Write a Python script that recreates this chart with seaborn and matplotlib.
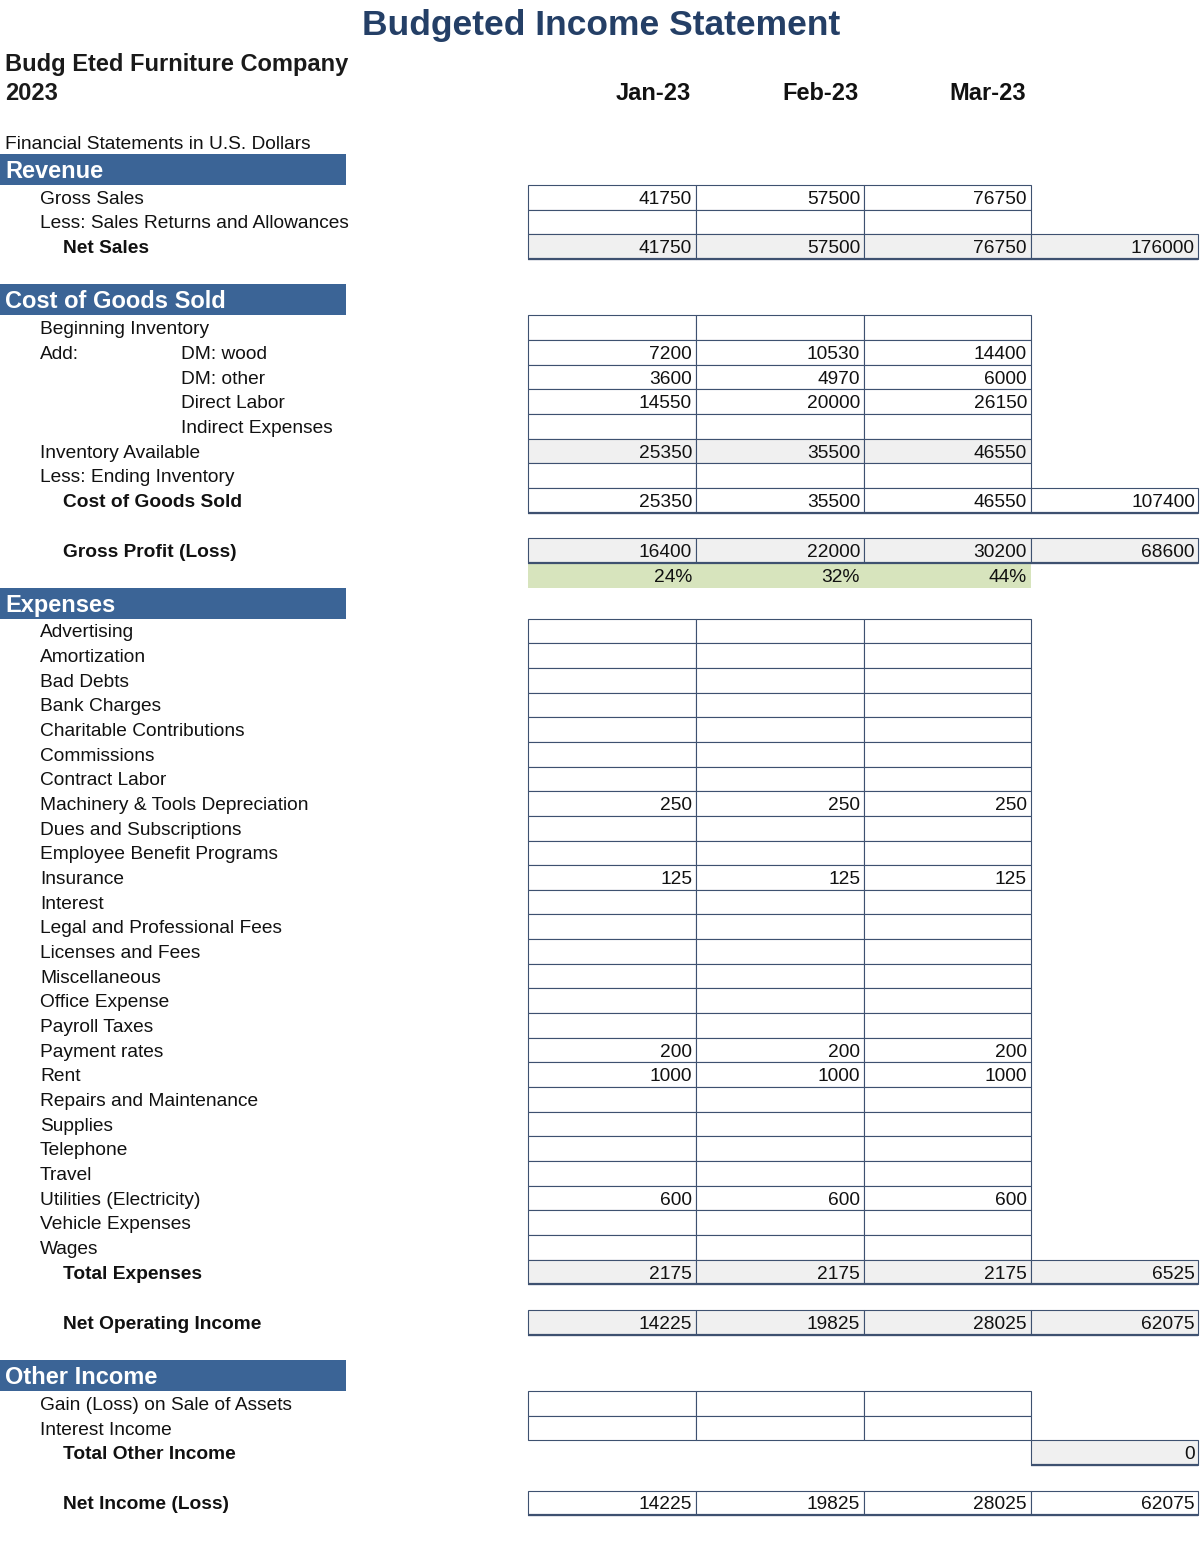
import matplotlib
matplotlib.use('Agg')
import matplotlib.pyplot as plt
from matplotlib.patches import Rectangle
import seaborn as sns

months = ['Jan-23', 'Feb-23', 'Mar-23']

gross_sales = [41750, 57500, 76750]
net_sales = [41750, 57500, 76750]
net_sales_total = 176000

dm_wood = [7200, 10530, 14400]
dm_other = [3600, 4970, 6000]
direct_labor = [14550, 20000, 26150]
inventory_available = [25350, 35500, 46550]
cost_of_goods = [25350, 35500, 46550]
cost_of_goods_total = 107400

gross_profit = [16400, 22000, 30200]
gross_profit_total = 68600
gross_margin = ['24%', '32%', '44%']

expense_labels = [
    'Advertising', 'Amortization', 'Bad Debts', 'Bank Charges',
    'Charitable Contributions', 'Commissions', 'Contract Labor',
    'Machinery & Tools Depreciation', 'Dues and Subscriptions',
    'Employee Benefit Programs', 'Insurance', 'Interest',
    'Legal and Professional Fees', 'Licenses and Fees', 'Miscellaneous',
    'Office Expense', 'Payroll Taxes', 'Payment rates', 'Rent',
    'Repairs and Maintenance', 'Supplies', 'Telephone', 'Travel',
    'Utilities (Electricity)', 'Vehicle Expenses', 'Wages',
]
depreciation = [250, 250, 250]
insurance = [125, 125, 125]
payment_rates = [200, 200, 200]
rent = [1000, 1000, 1000]
utilities = [600, 600, 600]
total_expenses = [2175, 2175, 2175]
total_expenses_total = 6525

net_operating = [14225, 19825, 28025]
net_operating_total = 62075
total_other_income = 0
net_income = [14225, 19825, 28025]
net_income_total = 62075

expense_values = {
    'Machinery & Tools Depreciation': depreciation,
    'Insurance': insurance,
    'Payment rates': payment_rates,
    'Rent': rent,
    'Utilities (Electricity)': utilities,
}

# ---- style ----
sns.set_theme(style='white')
plt.rcParams['font.family'] = ['Liberation Sans', 'DejaVu Sans']

HEADER_BLUE = '#3B6496'
TITLE_BLUE = '#243F66'
GRID = '#3E5170'
SHADE = '#F0F0F0'
GREEN = '#D7E4BD'
INK = '#111111'
FS = 13.8

ROW_H, GAP_H, HDR_H = 24.66, 25.5, 31
col_left = [528, 696, 864, 1031]
col_right = [696, 864, 1031, 1198]

# build the statement rows from the arrays above
rows = []


def add(kind, label='', x=40, bold=False, vals=None, total=None, ncells=3,
        shade=False, thick=False, sub=None, total_only=False):
    rows.append(dict(kind=kind, label=label, x=x, bold=bold, vals=vals,
                     total=total, ncells=ncells, shade=shade, thick=thick,
                     sub=sub, total_only=total_only))


add('hdr', 'Revenue')
add('row', 'Gross Sales', vals=gross_sales)
add('row', 'Less: Sales Returns and Allowances')
add('row', 'Net Sales', x=63, bold=True, vals=net_sales, total=net_sales_total,
    ncells=4, shade=True, thick=True)
add('gap')
add('hdr', 'Cost of Goods Sold')
add('row', 'Beginning Inventory')
add('row', 'Add:', sub='DM: wood', vals=dm_wood)
add('row', '', sub='DM: other', vals=dm_other)
add('row', '', sub='Direct Labor', vals=direct_labor)
add('row', '', sub='Indirect Expenses')
add('row', 'Inventory Available', vals=inventory_available, shade=True)
add('row', 'Less: Ending Inventory')
add('row', 'Cost of Goods Sold', x=63, bold=True, vals=cost_of_goods,
    total=cost_of_goods_total, ncells=4, thick=True)
add('gap')
add('row', 'Gross Profit (Loss)', x=63, bold=True, vals=gross_profit,
    total=gross_profit_total, ncells=4, shade=True, thick=True)
add('pct', vals=gross_margin)
add('hdr', 'Expenses')
for name in expense_labels:
    add('row', name, vals=expense_values.get(name))
add('row', 'Total Expenses', x=63, bold=True, vals=total_expenses,
    total=total_expenses_total, ncells=4, shade=True, thick=True)
add('gap')
add('row', 'Net Operating Income', x=63, bold=True, vals=net_operating,
    total=net_operating_total, ncells=4, shade=True, thick=True)
add('gap')
add('hdr', 'Other Income')
add('row', 'Gain (Loss) on Sale of Assets')
add('row', 'Interest Income')
add('row', 'Total Other Income', x=63, bold=True, total=total_other_income,
    shade=True, thick=True, total_only=True)
add('gap')
add('row', 'Net Income (Loss)', x=63, bold=True, vals=net_income,
    total=net_income_total, ncells=4, thick=True)

# ---- draw ----
fig = plt.figure(figsize=(12, 15.43), dpi=100)
ax = fig.add_axes([0, 0, 1, 1])
ax.set_xlim(0, 1200)
ax.set_ylim(1543, 0)
ax.axis('off')

ax.text(601, 26, 'Budgeted Income Statement', ha='center', va='center',
        fontsize=25.5, fontweight='bold', color=TITLE_BLUE)
ax.text(5, 64, 'Budg Eted Furniture Company', ha='left', va='center',
        fontsize=17, fontweight='bold', color='#1a1a1a')
ax.text(5, 94, '2023', ha='left', va='center', fontsize=17,
        fontweight='bold', color='#1a1a1a')
for i, m in enumerate(months):
    ax.text(col_right[i] - 5, 94, m, ha='right', va='center', fontsize=17,
            fontweight='bold', color=INK)
ax.text(5, 144.5, 'Financial Statements in U.S. Dollars', ha='left',
        va='center', fontsize=FS, color=INK)

y = 154
for r in rows:
    h = {'hdr': HDR_H, 'gap': GAP_H}.get(r['kind'], ROW_H)
    yc = y + h / 2 + 2
    if r['kind'] == 'hdr':
        ax.add_patch(Rectangle((0, y), 346, h, facecolor=HEADER_BLUE,
                               edgecolor='none'))
        ax.text(5, yc, r['label'], ha='left', va='center', fontsize=17,
                fontweight='bold', color='white')
    elif r['kind'] == 'pct':
        ax.add_patch(Rectangle((col_left[0], y), col_right[2] - col_left[0], h,
                               facecolor=GREEN, edgecolor='none'))
        for i, v in enumerate(r['vals']):
            ax.text(col_right[i] - 4, yc, v, ha='right', va='center',
                    fontsize=FS, color=INK)
    elif r['kind'] == 'row':
        ax.text(r['x'], yc, r['label'], ha='left', va='center', fontsize=FS,
                fontweight='bold' if r['bold'] else 'normal', color=INK)
        if r['sub']:
            ax.text(181, yc, r['sub'], ha='left', va='center', fontsize=FS,
                    color=INK)
        cells = [3] if r['total_only'] else list(range(r['ncells']))
        for c in cells:
            ax.add_patch(Rectangle((col_left[c], y), col_right[c] - col_left[c], h,
                                   facecolor=SHADE if r['shade'] else 'white',
                                   edgecolor=GRID, linewidth=0.8))
        if r['thick']:
            ax.plot([col_left[cells[0]], col_right[cells[-1]]], [y + h, y + h],
                    color=GRID, linewidth=1.6, solid_capstyle='butt')
        if r['vals'] is not None:
            for i, v in enumerate(r['vals']):
                ax.text(col_right[i] - 4, yc, str(v), ha='right', va='center',
                        fontsize=FS, color=INK)
        if r['total'] is not None:
            ax.text(col_right[3] - 3, yc, str(r['total']), ha='right',
                    va='center', fontsize=FS, color=INK)
    y += h

fig.savefig('out.png', dpi=100, facecolor='white')
